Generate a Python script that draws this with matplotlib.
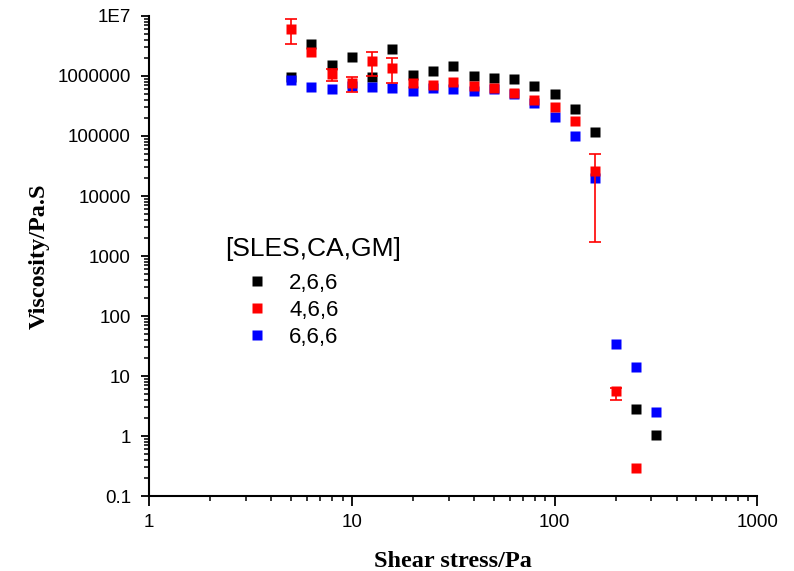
import numpy as np
import matplotlib
matplotlib.use("Agg")
import matplotlib.pyplot as plt
from matplotlib.ticker import LogLocator, FixedLocator, FixedFormatter, NullFormatter

# shear stress (Pa), same grid for all three samples
stress = [5.01, 6.31, 7.94, 10.0, 12.6, 15.8, 20.0, 25.1, 31.6, 39.8, 50.1,
          63.1, 79.4, 100.0, 126.0, 158.0, 200.0, 251.0, 316.0]

# viscosity (Pa.s)
visc_266 = [9.7e5, 3.45e6, 1.5e6, 2.1e6, 9.5e5, 2.8e6, 1.05e6, 1.22e6, 1.48e6,
            1.0e6, 9.2e5, 8.9e5, 6.7e5, 5.1e5, 2.8e5, 1.17e5, np.nan, 2.8, 1.04]
visc_466 = [6.1e6, 2.5e6, 1.09e6, 7.6e5, 1.8e6, 1.37e6, 7.7e5, 7.2e5, 8.0e5,
            6.9e5, 6.2e5, 5.2e5, 4.0e5, 3.0e5, 1.8e5, 2.6e4, 5.6, 0.29, np.nan]
visc_666 = [8.6e5, 6.6e5, 6.1e5, 6.8e5, 6.6e5, 6.3e5, 5.7e5, 6.2e5, 6.1e5,
            5.7e5, 6.0e5, 5.1e5, 3.5e5, 2.1e5, 1.0e5, 2.0e4, 33.7, 14.1, 2.54]

# red error bars: lower / upper limits
err_lo_466 = [3.4e6, np.nan, 8.3e5, 5.4e5, 1.0e6, 7.7e5, np.nan, np.nan, np.nan,
              np.nan, np.nan, np.nan, np.nan, np.nan, np.nan, 1.7e3, 4.0, np.nan, np.nan]
err_hi_466 = [8.9e6, np.nan, 1.3e6, 9.7e5, 2.54e6, 1.97e6, np.nan, np.nan, np.nan,
              np.nan, np.nan, np.nan, np.nan, np.nan, np.nan, 5.0e4, 6.2, np.nan, np.nan]

labels = ["2,6,6", "4,6,6", "6,6,6"]
legend_title = "[SLES,CA,GM]"
ytick_vals = [0.1, 1, 10, 100, 1000, 10000, 100000, 1000000, 1e7]
ytick_text = ["0.1", "1", "10", "100", "1000", "10000", "100000", "1000000", "1E7"]
xtick_vals = [1, 10, 100, 1000]
xtick_text = ["1", "10", "100", "1000"]

plt.rcParams["font.family"] = ["Liberation Sans", "DejaVu Sans"]

W, H = 794, 571
fig = plt.figure(figsize=(W / 100, H / 100), dpi=100)
ax = fig.add_axes([0.1877, 0.1313, 0.7663, 0.8407])

x = np.array(stress)
ms = 7.5
ax.plot(x, visc_266, "s", color="black", ms=ms, mec="none", label=labels[0], zorder=3)
ax.plot(x, visc_666, "s", color="blue", ms=ms, mec="none", label=labels[2], zorder=4)

v = np.array(visc_466)
lo = np.array(err_lo_466)
hi = np.array(err_hi_466)
has = ~np.isnan(lo)
ax.errorbar(x[has], v[has], yerr=[v[has] - lo[has], hi[has] - v[has]], fmt="none",
            ecolor="red", elinewidth=1.2, capsize=4, capthick=1.2, zorder=5)
ax.plot(x, v, "s", color="red", ms=ms, mec="none", label=labels[1], zorder=6)

ax.set_xscale("log")
ax.set_yscale("log")
ax.set_xlim(1, 1000)
ax.set_ylim(0.1, 1e7)

ax.yaxis.set_major_locator(FixedLocator(ytick_vals))
ax.yaxis.set_major_formatter(FixedFormatter(ytick_text))
ax.xaxis.set_major_locator(FixedLocator(xtick_vals))
ax.xaxis.set_major_formatter(FixedFormatter(xtick_text))
ax.yaxis.set_minor_locator(LogLocator(base=10, subs=np.arange(2, 10), numticks=20))
ax.xaxis.set_minor_locator(LogLocator(base=10, subs=np.arange(2, 10), numticks=20))
ax.yaxis.set_minor_formatter(NullFormatter())
ax.xaxis.set_minor_formatter(NullFormatter())

for s in ["top", "right"]:
    ax.spines[s].set_visible(False)
for s in ["left", "bottom"]:
    ax.spines[s].set_linewidth(1.5)
ax.tick_params(which="major", direction="out", length=6, width=1.3, labelsize=13.5)
ax.tick_params(which="minor", direction="out", length=3.5, width=1.1)
ax.tick_params(axis="x", which="major", length=7, pad=6)
ax.tick_params(axis="y", which="major", pad=7)

lab_font = dict(family=["Liberation Serif", "DejaVu Serif"], weight="bold", size=17.5)
ax.set_xlabel("Shear stress/Pa", fontdict=lab_font, labelpad=14)
ax.set_ylabel("Viscosity/Pa.S", fontdict=lab_font, labelpad=6)

# legend: title as plain text, entries as a borderless legend below it
fig.text(225 / W, 1 - 249 / H, legend_title, fontsize=19, ha="left", va="center")
h, l = ax.get_legend_handles_labels()
order = [0, 2, 1]
leg = fig.legend([h[i] for i in order], [l[i] for i in order],
                 loc="upper left", bbox_to_anchor=(246 / W, 1 - 273 / H),
                 frameon=False, fontsize=16, markerscale=1.0, borderpad=0,
                 handletextpad=0.95, labelspacing=0.26, handlelength=1.0,
                 borderaxespad=0.0)

fig.savefig("out.png", dpi=100)
